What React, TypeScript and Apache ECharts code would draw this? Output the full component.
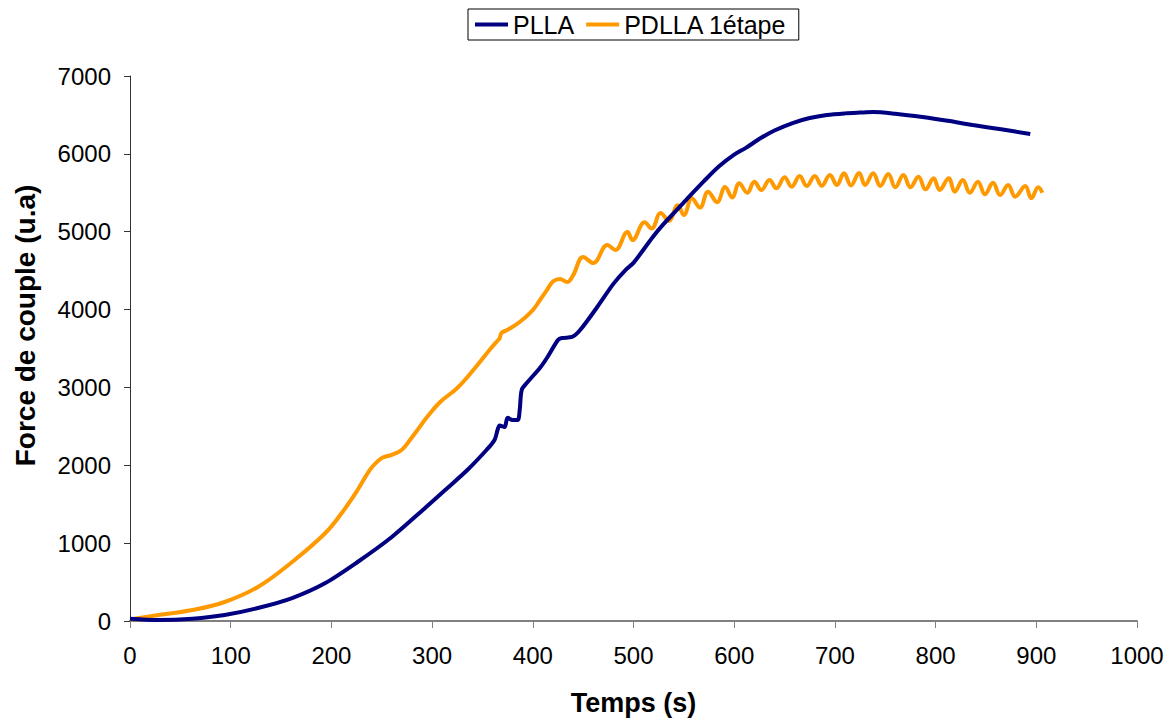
import React, { useEffect, useRef } from "react";
import * as echarts from "echarts";

const seriesNames = ["PLLA", "PDLLA 1étape"];
const xTicks = { min: 0, max: 1000, interval: 100 };
const yTicks = { min: 0, max: 7000, interval: 1000 };

// PLLA: [time (s), torque (u.a)]
const pllaPoints: [number, number][] = [
  [0, 30], [28, 13], [62, 30], [94, 77], [127, 167], [161, 295], [194, 488],
  [226, 758], [260, 1079], [293, 1451], [313, 1682], [335, 1939], [354, 2196],
  [362, 2325], [365, 2453], [367, 2510], [372, 2492], [375, 2610], [380, 2582],
  [385, 2582], [387, 2710], [389, 2967], [394, 3057], [407, 3249], [414, 3378],
  [425, 3609], [429, 3635], [439, 3648], [447, 3737], [464, 4033], [480, 4330],
  [492, 4508], [500, 4600], [519, 4930], [530, 5100], [543, 5280], [553, 5420],
  [570, 5650], [585, 5840], [600, 5990], [612, 6080], [626, 6200], [640, 6300],
  [658, 6396], [675, 6460], [692, 6499], [710, 6520], [725, 6530], [738, 6537],
  [760, 6515], [787, 6473], [812, 6425], [837, 6370], [865, 6315], [894, 6255],
];

// PDLLA 1étape: [time (s), torque (u.a)]
const pdllaPoints: [number, number][] = [
  [0, 20], [28, 77], [62, 141], [94, 244], [127, 437], [161, 758], [194, 1130],
  [211, 1400], [226, 1683], [238, 1939], [245, 2040], [251, 2100], [260, 2135],
  [270, 2200], [278, 2325], [287, 2480], [295, 2620], [308, 2813], [325, 2993],
  [341, 3224], [357, 3481], [365, 3600], [367, 3630], [369, 3700], [375, 3740],
  [387, 3840], [400, 3994], [407, 4120], [414, 4251], [420, 4360], [427, 4392],
  [434, 4354], [440, 4440], [450, 4675], [460, 4598], [474, 4829], [482, 4765],
  [494, 4996], [499, 4893], [511, 5120], [518, 5040], [527, 5240], [535, 5140],
  [544, 5340], [550, 5214], [558, 5429], [566, 5310], [574, 5514], [583, 5380],
  [591, 5575], [598, 5440], [605, 5622], [613, 5500], [620, 5642], [627, 5536],
  [635, 5664], [642, 5557], [650, 5698], [657, 5578], [665, 5715], [672, 5587],
  [680, 5715], [687, 5590], [695, 5728], [702, 5600], [709, 5750], [716, 5595],
  [724, 5755], [730, 5600], [738, 5750], [745, 5587], [753, 5741], [760, 5570],
  [768, 5728], [775, 5570], [783, 5707], [790, 5544], [798, 5686], [804, 5536],
  [813, 5686], [819, 5514], [827, 5664], [834, 5501], [842, 5642], [849, 5480],
  [857, 5630], [864, 5471], [872, 5600], [879, 5450], [889, 5587], [895, 5429],
  [902, 5570], [906, 5500],
];

const colors = ["#000080", "#FF9900"];
const FONT = "'Liberation Sans', Arial, sans-serif";
const plain = (v: number) => String(v);

export default function App() {
  const ref = useRef<HTMLDivElement>(null);
  useEffect(() => {
    if (!ref.current) return;
    const chart = echarts.init(ref.current, undefined, { renderer: "svg" });
    chart.setOption({
      animation: false,
      backgroundColor: "#fff",
      textStyle: { fontFamily: FONT },
      legend: {
        left: 468,
        top: 9,
        padding: [2, 12, 2, 7],
        borderColor: "#000",
        borderWidth: 1,
        borderRadius: 0,
        icon: "rect",
        itemWidth: 33,
        itemHeight: 4,
        itemGap: 12,
        textStyle: { fontFamily: FONT, fontSize: 25, color: "#000", lineHeight: 27 },
        data: seriesNames,
      },
      grid: { left: 130, right: 36, top: 76, bottom: 99, outerBoundsMode: "none" },
      xAxis: {
        type: "value",
        min: xTicks.min,
        max: xTicks.max,
        interval: xTicks.interval,
        name: "Temps (s)",
        nameLocation: "middle",
        nameGap: 68,
        nameTextStyle: { fontFamily: FONT, fontSize: 27, fontWeight: "bold", color: "#000" },
        axisLine: { lineStyle: { color: "#808080", width: 2 } },
        axisTick: { lineStyle: { color: "#808080" }, length: 7 },
        axisLabel: { fontFamily: FONT, fontSize: 24, color: "#000", margin: 22, formatter: plain },
        splitLine: { show: false },
      },
      yAxis: {
        type: "value",
        min: yTicks.min,
        max: yTicks.max,
        interval: yTicks.interval,
        name: "Force de couple (u.a)",
        nameLocation: "middle",
        nameGap: 91,
        nameTextStyle: {
          fontFamily: FONT,
          fontSize: 28,
          fontWeight: "bold",
          color: "#000",
          padding: [0, 0, 0, 46],
        },
        axisLine: { show: true, lineStyle: { color: "#333", width: 1 } },
        axisTick: { show: true, lineStyle: { color: "#333" }, length: 6 },
        axisLabel: { fontFamily: FONT, fontSize: 24, color: "#000", margin: 19, formatter: plain },
        splitLine: { show: false },
      },
      series: [
        {
          name: seriesNames[0],
          type: "line",
          data: pllaPoints,
          showSymbol: false,
          smooth: 0.3,
          color: colors[0],
          lineStyle: { width: 4, color: colors[0] },
          z: 3,
        },
        {
          name: seriesNames[1],
          type: "line",
          data: pdllaPoints,
          showSymbol: false,
          smooth: 0.4,
          color: colors[1],
          lineStyle: { width: 4, color: colors[1] },
          z: 2,
        },
      ],
    });
    return () => chart.dispose();
  }, []);
  return (
    <div
      ref={ref}
      style={{ position: "absolute", left: 0, top: 0, width: 1173, height: 720 }}
    />
  );
}
